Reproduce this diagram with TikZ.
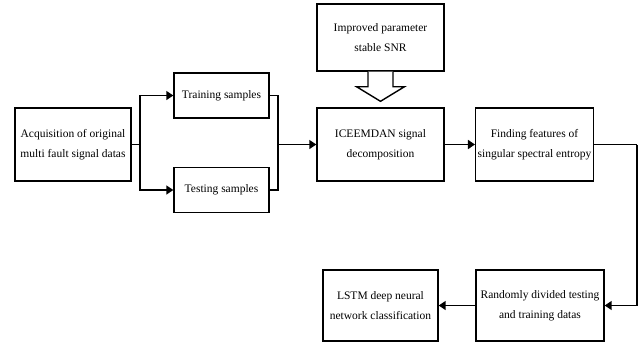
\documentclass[tikz,border=0pt]{standalone}
\usepackage{fontspec}
\setmainfont{Liberation Serif}
\usetikzlibrary{arrows.meta}

\begin{document}
\begin{tikzpicture}
 [x=1pt, y=1pt, >={Triangle[length=7pt,width=9pt]},
  step box/.style={draw, line width=1.4pt, align=center, inner sep=2pt,
    font=\fontsize{11.5}{20}\selectfont},
  big box/.style={step box, minimum height=73pt},
  small box/.style={step box, minimum width=95pt, minimum height=45pt},
  link/.style={line width=1.6pt}]

\useasboundingbox (0,0) rectangle (640,-343);

\node[big box, minimum width=116pt] (acq) at (73,-144.5) {Acquisition of original\\multi fault signal datas};
   \node[small box] (train) at (221.5,-95.5) {Training samples};
\node[small box] (test) at (221.5,-190) {Testing samples};
 \node[big box, minimum width=127pt] (ice) at (380.5,-144.5) {ICEEMDAN signal\\decomposition};
 \node[step box, minimum width=127pt, minimum height=67pt] (impr) at (380.5,-37.5) {Improved parameter\\stable SNR};
  \node[big box, minimum width=117pt] (find) [right of=ice, node distance=154pt] {Finding features of\\singular spectral entropy};

  \node[step box, minimum width=115pt, minimum height=71pt] (lstm) at (380.5,-305.5) {LSTM deep neural\\network classification};
  \node[step box, minimum width=128pt, minimum height=71pt] (rand) [right of=lstm, node distance=159.5pt] {Randomly divided testing\\and training datas};

  \coordinate (split) at (140,-144.5);
  \coordinate (join) at (278,-144.5);
  \coordinate (turn) at (637,-144.5);

% hollow arrow into the decomposition
\draw[line width=1.4pt, fill=white]
  ([xshift=-12.5pt]impr.south) -- ++(0,-15) -- ++(-11.5,0) -- ([yshift=6pt]ice.north)
  -- ([xshift=24pt,yshift=-15pt]impr.south) -- ++(-11.5,0) -- ([xshift=12.5pt]impr.south);

\path
  (acq) edge [link] (split)
  (split) edge [link, ->, to path={|- (\tikztotarget)}] (train)
  (split) edge [link, ->, to path={|- (\tikztotarget)}] (test)
  (train) edge [link, to path={-| (\tikztotarget)}] (join)
  (test) edge [link, to path={-| (\tikztotarget)}] (join)
  (join) edge [link, ->] (ice)
  (ice) edge [link, ->] (find)
  (find) edge [link] (turn)
  (turn) edge [link, ->, to path={|- (\tikztotarget)}] (rand)
  (rand) edge [link, ->] (lstm);

\end{tikzpicture}
\end{document}
